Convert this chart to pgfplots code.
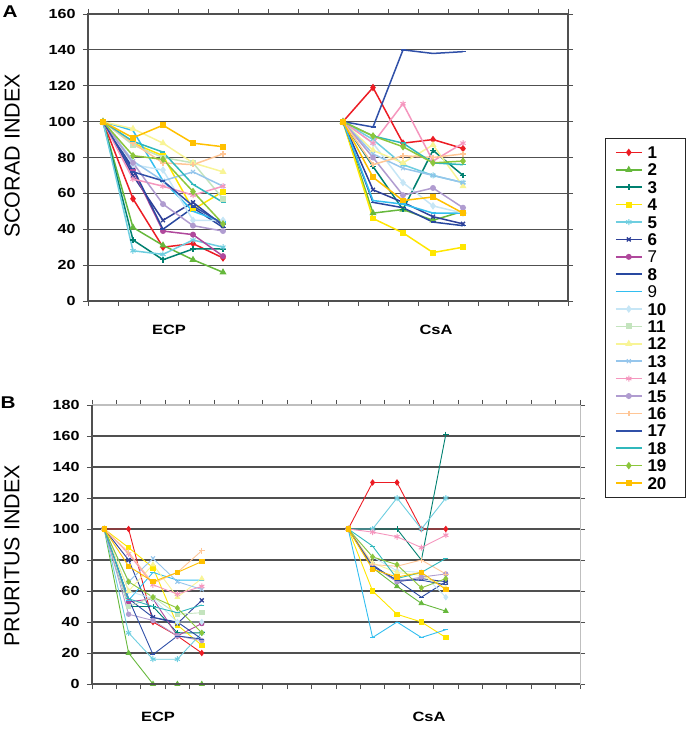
\documentclass[border=0pt]{standalone}
\usepackage{pgfplots}
\pgfplotsset{compat=1.18}
\usepackage{fontspec}
\setmainfont{Liberation Sans}
\newfontfamily\widefont[FakeStretch=1.22]{Liberation Sans}
\definecolor{c1}{RGB}{236,28,36}
\definecolor{c2}{RGB}{102,184,60}
\definecolor{c3}{RGB}{0,128,112}
\definecolor{c4}{RGB}{255,230,0}
\definecolor{c5}{RGB}{110,206,224}
\definecolor{c6}{RGB}{46,64,152}
\definecolor{c7}{RGB}{176,72,156}
\definecolor{c8}{RGB}{40,72,160}
\definecolor{c9}{RGB}{50,190,240}
\definecolor{c10}{RGB}{198,230,246}
\definecolor{c11}{RGB}{196,228,190}
\definecolor{c12}{RGB}{248,244,150}
\definecolor{c13}{RGB}{150,198,236}
\definecolor{c14}{RGB}{245,150,190}
\definecolor{c15}{RGB}{176,156,208}
\definecolor{c16}{RGB}{255,198,150}
\definecolor{c17}{RGB}{48,80,168}
\definecolor{c18}{RGB}{48,184,188}
\definecolor{c19}{RGB}{140,198,60}
\definecolor{c20}{RGB}{255,192,0}
\definecolor{gridc}{RGB}{80,80,80}
\tikzset{
s1/.style={color=c1,mark=diamond*,mark size=2.6pt,mark options={solid,fill=c1}},
s2/.style={color=c2,mark=triangle*,mark size=2.6pt,mark options={solid,fill=c2}},
s3/.style={color=c3,mark=+,mark size=2.8pt,mark options={solid}},
s4/.style={color=c4,mark=square*,mark size=2.2pt,mark options={solid,fill=c4}},
s5/.style={color=c5,mark=asterisk,mark size=3pt,mark options={solid,line width=1pt}},
s6/.style={color=c6,mark=x,mark size=2.8pt,mark options={solid,line width=1.3pt}},
s7/.style={color=c7,mark=*,mark size=2.2pt,mark options={solid,fill=c7}},
s8/.style={color=c8,mark=-,mark size=2.5pt,mark options={solid}},
s9/.style={color=c9,mark=-,mark size=2.5pt,mark options={solid}},
s10/.style={color=c10,mark=diamond*,mark size=2.6pt,mark options={solid,fill=c10}},
s11/.style={color=c11,mark=square*,mark size=2.2pt,mark options={solid,fill=c11}},
s12/.style={color=c12,mark=triangle*,mark size=2.6pt,mark options={solid,fill=c12}},
s13/.style={color=c13,mark=x,mark size=2.8pt,mark options={solid,line width=1pt}},
s14/.style={color=c14,mark=asterisk,mark size=3pt,mark options={solid,line width=1pt}},
s15/.style={color=c15,mark=*,mark size=2.2pt,mark options={solid,fill=c15}},
s16/.style={color=c16,mark=+,mark size=2.8pt,mark options={solid}},
s17/.style={color=c17,mark=-,mark size=2.5pt,mark options={solid}},
s18/.style={color=c18,mark=-,mark size=2.5pt,mark options={solid}},
s19/.style={color=c19,mark=diamond*,mark size=2.6pt,mark options={solid,fill=c19}},
s20/.style={color=c20,mark=square*,mark size=2.2pt,mark options={solid,fill=c20}},
}
\pgfplotsset{
common/.style={
  scale only axis,
  anchor=south west,
  ymin=0,
  tick align=outside,
  major tick length=5pt,
  tick style={color=gridc, line width=0.8pt},
  ymajorgrids,
  major grid style={color=gridc, line width=1.1pt},
  xticklabels={},
  unbounded coords=jump,
  /pgf/number format/assume math mode=true,
  yticklabel style={font=\widefont\bfseries\fontsize{13.2}{14}\selectfont, xshift=-4pt},
  ylabel style={font=\fontsize{21.5}{24}\selectfont, anchor=center},
  clip=false,
},
}
\begin{document}
\begin{tikzpicture}
\useasboundingbox (0pt,0pt) rectangle (687pt,729pt);
% ---------------- Panel A ----------------
\begin{axis}[common,
  at={(88pt,428pt)}, width=480pt, height=287pt,
  xmin=0, xmax=16, xtick={0,1,...,16},
  ymax=160, ytick={0,20,...,160},
  axis line style={color=gridc, line width=1.2pt},
  ylabel={SCORAD INDEX},
  ylabel style={at={(axis description cs:-0.158,0.505)}},
  every axis plot/.append style={line width=1.5pt},
  legend image code/.code={\draw[mark repeat=2,mark phase=2,#1] plot coordinates {(0pt,0pt) (13pt,0pt) (26pt,0pt)};},
  legend cell align=left,
  legend style={at={(1.2458,0.568)}, anchor=north east, draw=black!85, line width=0.9pt,
    inner xsep=10pt, inner ysep=8pt, row sep=5.4pt, column sep=5pt,
    font=\fontsize{17}{17}\selectfont\bfseries,
    nodes={inner sep=0pt, text height=12pt, text depth=0pt, text width=28pt}},
]
\addplot[s1] coordinates {(0.5,100)(1.5,57)(2.5,30)(3.5,32)(4.5,24)(6.5,nan)(8.5,100)(9.5,119)(10.5,88)(11.5,90)(12.5,85)};
\addplot[s2] coordinates {(0.5,100)(1.5,41)(2.5,31)(3.5,23)(4.5,16)(6.5,nan)(8.5,100)(9.5,49)(10.5,51)(11.5,45)(12.5,50)};
\addplot[s3] coordinates {(0.5,100)(1.5,34)(2.5,23)(3.5,29)(4.5,29)(6.5,nan)(8.5,100)(9.5,75)(10.5,51)(11.5,84)(12.5,70)};
\addplot[s4] coordinates {(0.5,100)(1.5,88)(2.5,81)(3.5,51)(4.5,61)(6.5,nan)(8.5,100)(9.5,46)(10.5,38)(11.5,27)(12.5,30)};
\addplot[s5] coordinates {(0.5,100)(1.5,28)(2.5,26)(3.5,34)(4.5,30)(6.5,nan)(8.5,100)(9.5,90)(10.5,76)(11.5,70)(12.5,66)};
\addplot[s6] coordinates {(0.5,100)(1.5,70)(2.5,45)(3.5,55)(4.5,42)(6.5,nan)(8.5,100)(9.5,62)(10.5,55)(11.5,47)(12.5,43)};
\addplot[s7] coordinates {(0.5,100)(1.5,73)(2.5,39)(3.5,37)(4.5,25)};
\addplot[s8] coordinates {(0.5,100)(1.5,74)(2.5,40)(3.5,52)(4.5,41)(6.5,nan)(8.5,100)(9.5,55)(10.5,52)(11.5,44)(12.5,42)};
\addplot[s9] coordinates {(0.5,100)(1.5,95)(2.5,67)(3.5,50)(4.5,44)(6.5,nan)(8.5,100)(9.5,56)(10.5,54)(11.5,49)(12.5,49)};
\addplot[s10] coordinates {(0.5,100)(1.5,76)(2.5,73)(3.5,45)(4.5,45)(6.5,nan)(8.5,100)(9.5,88)(10.5,66)(11.5,53)(12.5,49)};
\addplot[s11] coordinates {(0.5,100)(1.5,87)(2.5,80)(3.5,77)(4.5,57)};
\addplot[s12] coordinates {(0.5,100)(1.5,96)(2.5,88)(3.5,77)(4.5,72)(6.5,nan)(8.5,100)(9.5,84)(10.5,77)(11.5,87)(12.5,64)};
\addplot[s13] coordinates {(0.5,100)(1.5,78)(2.5,67)(3.5,72)(4.5,64)(6.5,nan)(8.5,100)(9.5,82)(10.5,74)(11.5,70)(12.5,66)};
\addplot[s14] coordinates {(0.5,100)(1.5,68)(2.5,64)(3.5,59)(4.5,64)(6.5,nan)(8.5,100)(9.5,88)(10.5,110)(11.5,78)(12.5,88)};
\addplot[s15] coordinates {(0.5,100)(1.5,77)(2.5,54)(3.5,42)(4.5,39)(6.5,nan)(8.5,100)(9.5,80)(10.5,59)(11.5,63)(12.5,52)};
\addplot[s16] coordinates {(0.5,100)(1.5,88)(2.5,77)(3.5,76)(4.5,82)(6.5,nan)(8.5,100)(9.5,76)(10.5,81)(11.5,80)(12.5,82)};
\addplot[s17] coordinates {(0.5,100)(1.5,72)(2.5,67)(3.5,53)(4.5,43)(6.5,nan)(8.5,100)(9.5,97)(10.5,140)(11.5,138)(12.5,139)};
\addplot[s18] coordinates {(0.5,100)(1.5,89)(2.5,83)(3.5,65)(4.5,55)(6.5,nan)(8.5,100)(9.5,92)(10.5,88)(11.5,77)(12.5,76)};
\addplot[s19] coordinates {(0.5,100)(1.5,81)(2.5,79)(3.5,61)(4.5,43)(6.5,nan)(8.5,100)(9.5,92)(10.5,86)(11.5,77)(12.5,78)};
\addplot[s20] coordinates {(0.5,100)(1.5,91)(2.5,98)(3.5,88)(4.5,86)(6.5,nan)(8.5,100)(9.5,69)(10.5,56)(11.5,58)(12.5,49)};
\legend{1,2,3,4,5,6,{\mdseries 7},8,{\mdseries 9},10,11,12,13,14,15,16,17,18,19,20}
\end{axis}
% ---------------- Panel B ----------------
\begin{axis}[common,
  at={(92pt,45pt)}, width=488pt, height=279pt,
  xmin=0, xmax=20, xtick={0,1,...,20},
  ymax=180, ytick={0,20,...,180},
  axis line style={color=black!25, line width=1pt},
  ylabel={PRURITUS INDEX},
  ylabel style={at={(axis description cs:-0.164,0.459)}},
  every axis plot/.append style={line width=0.9pt},
  after end axis/.code={
    \draw[color=black!25, line width=1.2pt] (rel axis cs:0,1) -- (rel axis cs:1,1);
    \draw[color=gridc, line width=1.2pt] (rel axis cs:0,1) -- (rel axis cs:0,0) -- (rel axis cs:1,0);
  },
]
\addplot[s1] coordinates {(0.5,100)(1.5,100)(2.5,40)(3.5,31)(4.5,20)(7.5,nan)(10.5,100)(11.5,130)(12.5,130)(13.5,100)(14.5,100)};
\addplot[s2] coordinates {(0.5,100)(1.5,20)(2.5,0)(3.5,0)(4.5,0)(7.5,nan)(10.5,100)(11.5,75)(12.5,63)(13.5,52)(14.5,47)};
\addplot[s3] coordinates {(0.5,100)(1.5,50)(2.5,50)(3.5,33)(4.5,33)(7.5,nan)(10.5,100)(11.5,100)(12.5,100)(13.5,80)(14.5,161)};
\addplot[s4] coordinates {(0.5,100)(1.5,88)(2.5,75)(3.5,38)(4.5,25)(7.5,nan)(10.5,100)(11.5,60)(12.5,45)(13.5,40)(14.5,30)};
\addplot[s5] coordinates {(0.5,100)(1.5,33)(2.5,16)(3.5,16)(4.5,33)(7.5,nan)(10.5,100)(11.5,100)(12.5,120)(13.5,100)(14.5,120)};
\addplot[s6] coordinates {(0.5,100)(1.5,80)(2.5,43)(3.5,39)(4.5,54)(7.5,nan)(10.5,100)(11.5,77)(12.5,66)(13.5,68)(14.5,66)};
\addplot[s7] coordinates {(0.5,100)(1.5,53)(2.5,55)(3.5,31)(4.5,39)};
\addplot[s8] coordinates {(0.5,100)(1.5,55)(2.5,43)(3.5,40)(4.5,29)(7.5,nan)(10.5,100)(11.5,76)(12.5,67)(13.5,56)(14.5,66)};
\addplot[s9] coordinates {(0.5,100)(1.5,54)(2.5,72)(3.5,67)(4.5,67)(7.5,nan)(10.5,100)(11.5,30)(12.5,40)(13.5,30)(14.5,35)};
\addplot[s10] coordinates {(0.5,100)(1.5,60)(2.5,55)(3.5,40)(4.5,40)(7.5,nan)(10.5,100)(11.5,82)(12.5,73)(13.5,72)(14.5,56)};
\addplot[s11] coordinates {(0.5,100)(1.5,50)(2.5,56)(3.5,45)(4.5,46)};
\addplot[s12] coordinates {(0.5,100)(1.5,60)(2.5,77)(3.5,56)(4.5,68)(7.5,nan)(10.5,100)(11.5,78)(12.5,72)(13.5,70)(14.5,62)};
\addplot[s13] coordinates {(0.5,100)(1.5,66)(2.5,81)(3.5,66)(4.5,61)};
\addplot[s14] coordinates {(0.5,100)(1.5,84)(2.5,64)(3.5,58)(4.5,63)(7.5,nan)(10.5,100)(11.5,98)(12.5,95)(13.5,88)(14.5,96)};
\addplot[s15] coordinates {(0.5,100)(1.5,45)(2.5,41)(3.5,31)(4.5,28)(7.5,nan)(10.5,100)(11.5,76)(12.5,66)(13.5,69)(14.5,71)};
\addplot[s16] coordinates {(0.5,100)(1.5,85)(2.5,65)(3.5,72)(4.5,86)(7.5,nan)(10.5,100)(11.5,77)(12.5,76)(13.5,80)(14.5,71)};
\addplot[s17] coordinates {(0.5,100)(1.5,55)(2.5,19)(3.5,31)(4.5,29)(7.5,nan)(10.5,100)(11.5,76)(12.5,67)(13.5,67)(14.5,64)};
\addplot[s18] coordinates {(0.5,100)(1.5,55)(2.5,50)(3.5,46)(4.5,51)(7.5,nan)(10.5,100)(11.5,89)(12.5,68)(13.5,72)(14.5,81)};
\addplot[s19] coordinates {(0.5,100)(1.5,66)(2.5,56)(3.5,49)(4.5,33)(7.5,nan)(10.5,100)(11.5,82)(12.5,77)(13.5,62)(14.5,68)};
\addplot[s20] coordinates {(0.5,100)(1.5,76)(2.5,66)(3.5,72)(4.5,79)(7.5,nan)(10.5,100)(11.5,74)(12.5,69)(13.5,72)(14.5,61)};
\end{axis}
% labels
\node[font=\widefont\bfseries\fontsize{17}{17}\selectfont] at (10pt,717pt) {A};
\node[font=\widefont\bfseries\fontsize{17}{17}\selectfont] at (8pt,326pt) {B};
\node[font=\widefont\bfseries\fontsize{13.5}{15}\selectfont] at (169pt,399pt) {ECP};
\node[font=\widefont\bfseries\fontsize{13.5}{15}\selectfont] at (436pt,399pt) {CsA};
\node[font=\widefont\bfseries\fontsize{13.5}{15}\selectfont] at (158pt,12pt) {ECP};
\node[font=\widefont\bfseries\fontsize{13.5}{15}\selectfont] at (429pt,12pt) {CsA};
\end{tikzpicture}
\end{document}
